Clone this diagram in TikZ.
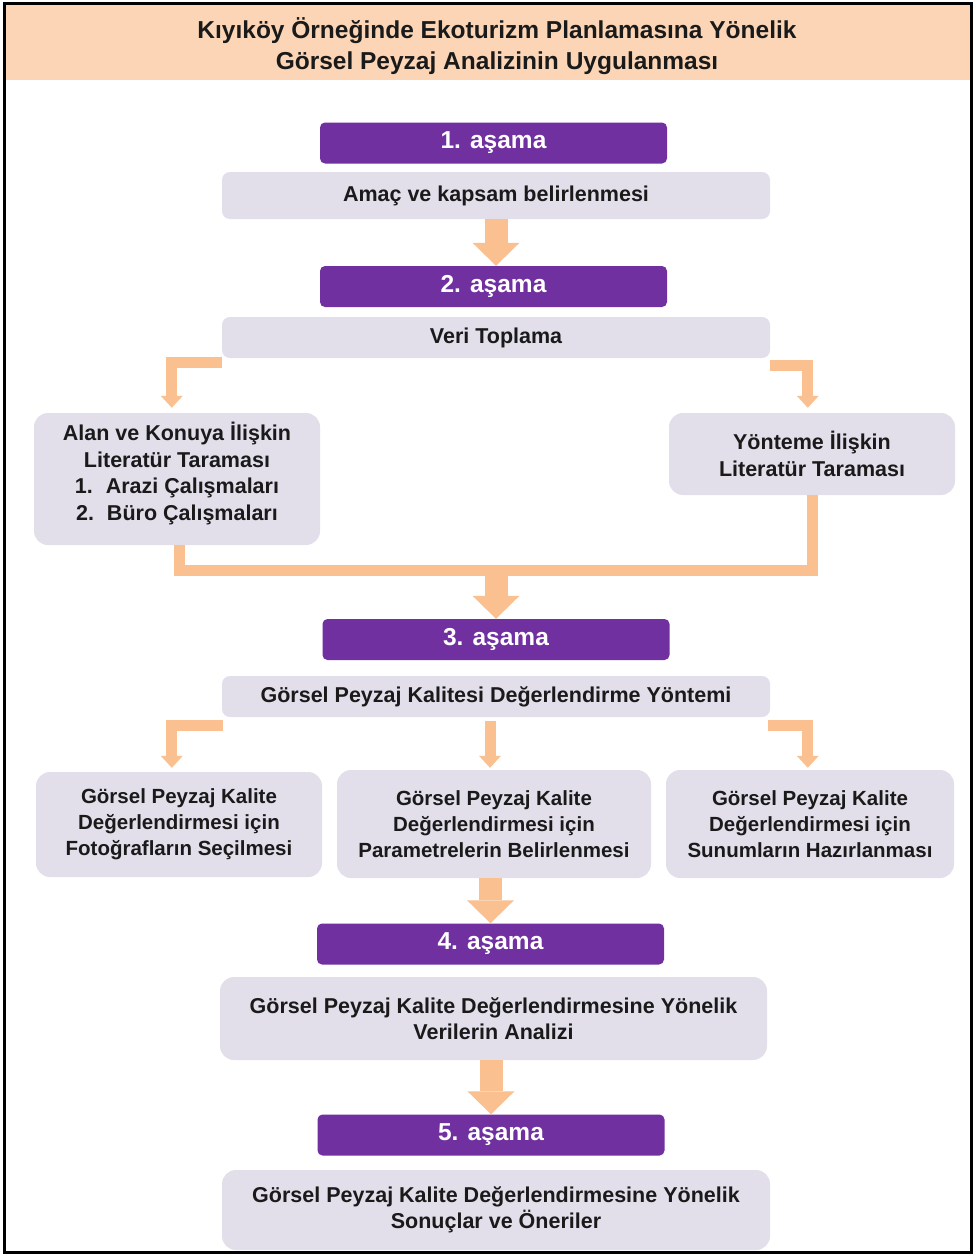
\documentclass[tikz,border=0pt]{standalone}
\usepackage{fontspec}
\setmainfont{Liberation Sans}[BoldFont={Liberation Sans Bold}]
\usetikzlibrary{arrows.meta,calc}
\definecolor{purp}{HTML}{7030A0}
\definecolor{boxc}{HTML}{E2DFEB}
\definecolor{arrc}{HTML}{FAC090}
\definecolor{titc}{HTML}{FBD5B5}
\definecolor{txt}{HTML}{1A1A1A}
\begin{document}
\begin{tikzpicture}[x=1pt,y=-1pt,
  stagebox/.style={fill=purp, rounded corners=5pt, text=white, font=\bfseries\fontsize{24.5}{28}\selectfont, minimum width=347pt, minimum height=41pt, inner sep=0pt},
  graybox/.style={fill=boxc, rounded corners=8pt, text=txt, font=\bfseries\fontsize{21.5}{26.5}\selectfont, align=center, inner sep=0pt},
  bigbox/.style={graybox, rounded corners=14pt},
  smallfont/.style={font=\bfseries\fontsize{20.5}{26}\selectfont},
  blk/.style={draw=arrc, line width=23pt, -{Triangle[width=47pt,length=23pt,line width=0pt]}},
  elb/.style={draw=arrc, line width=11pt, line join=miter, -{Triangle[width=22pt,length=12pt,line width=0pt]}},
  mrg/.style={draw=arrc, line width=11pt, line join=miter},
]
\useasboundingbox (0,0) rectangle (976,1255);
\fill[white] (0,0) rectangle (976,1255);
\fill[titc] (5,4) rectangle (971,80);
\node[font=\bfseries\fontsize{24.5}{31}\selectfont, align=center, text=txt] (title) at (497,46) {Kıyıköy Örneğinde Ekoturizm Planlamasına Yönelik\\Görsel Peyzaj Analizinin Uygulanması};

% stage 1
\node[stagebox] (s1) at (493.5,143) {1. aşama};
\node[graybox, minimum width=548pt, minimum height=47pt] (b1) at (496,195.5) {Amaç ve kapsam belirlenmesi};
% stage 2
\node[stagebox] (s2) at (493.5,286.5) {2. aşama};
\node[graybox, minimum width=548pt, minimum height=41pt] (b2) at (496,337.5) {Veri Toplama};
\node[bigbox, minimum width=286pt, minimum height=132pt, text depth=15pt] (lb) at (177,479) {Alan ve Konuya İlişkin\\Literatür Taraması\\1.\hspace{0.6em}Arazi Çalışmaları\\2.\hspace{0.6em}Büro Çalışmaları};
\node[bigbox, minimum width=286pt, minimum height=82pt] (rb) at (812,454) {Yönteme İlişkin\\Literatür Taraması};
% stage 3
\node[stagebox] (s3) at (496,639.5) {3. aşama};
\node[graybox, minimum width=548pt, minimum height=41pt] (b3) at (496,696.5) {Görsel Peyzaj Kalitesi Değerlendirme Yöntemi};
\node[bigbox, smallfont, minimum width=286pt, minimum height=105pt] (c1) at (179,824.5) {Görsel Peyzaj Kalite\\Değerlendirmesi için\\Fotoğrafların Seçilmesi};
\node[bigbox, smallfont, minimum width=314pt, minimum height=108pt] (c2) at (494,824) {Görsel Peyzaj Kalite\\Değerlendirmesi için\\Parametrelerin Belirlenmesi};
\node[bigbox, smallfont, minimum width=288pt, minimum height=108pt] (c3) at (810,824) {Görsel Peyzaj Kalite\\Değerlendirmesi için\\Sunumların Hazırlanması};
% stage 4
\node[stagebox] (s4) at (490.5,944) {4. aşama};
\node[bigbox, minimum width=547pt, minimum height=83pt] (b4) at (493.5,1018.5) {Görsel Peyzaj Kalite Değerlendirmesine Yönelik\\Verilerin Analizi};
% stage 5
\node[stagebox] (s5) at (491,1135) {5. aşama};
\node[bigbox, minimum width=548pt, minimum height=80pt] (b5) at (496,1210) {Görsel Peyzaj Kalite Değerlendirmesine Yönelik\\Sonuçlar ve Öneriler};

% connectors
\draw[blk] (b1.south) -- (b1.south |- s2.north);
\draw[elb] ($(b2.south west)+(0,4)$) -| ($(lb.north west)+(138,-5)$);
\draw[elb] ($(b2.south east)+(0,7)$) -| ($(rb.north west)+(139,-5)$);
\coordinate (m) at ($(rb.south)+(0,75)$);
\draw[mrg] ($(lb.south)+(2,0)$) |- (m) -- (rb.south);
\coordinate (mj) at (s3.north |- m);
\draw[blk] ($(mj)+(0,-4)$) -- (s3.north);
\draw[elb] ($(b3.south west)+(1,8)$) -| ($(c1.north west)+(136,-4)$);
\draw[elb] ($(b3.south)+(-6,4)$) -- ($(c2.north)+(-4,-2)$);
\draw[elb] ($(b3.south east)+(-2,8)$) -| ($(c3.north west)+(142,-2)$);
\draw[blk] (s4.north |- c2.south) -- (s4.north);
\draw[blk] (s5.north |- b4.south) -- (s5.north);

% frame
\draw[line width=3pt] (4.5,3.5) rectangle (971.5,1252);
\end{tikzpicture}
\end{document}
